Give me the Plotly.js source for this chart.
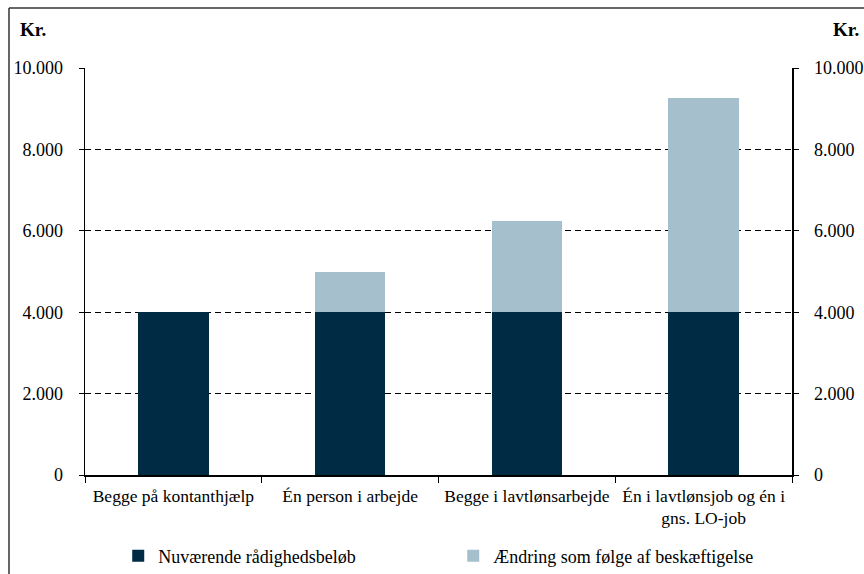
<!DOCTYPE html>
<html>
<head>
<meta charset="utf-8">
<script src="https://cdn.plot.ly/plotly-3.0.1.min.js"></script>
<style>html,body{margin:0;padding:0;background:#fff;}#chart{width:864px;height:574px;}</style>
</head>
<body>
<div id="chart"></div>
<script>
const categories = ["Begge på kontanthjælp", "Én person i arbejde", "Begge i lavtlønsarbejde", "Én i lavtlønsjob og én i<br>gns. LO-job"];
const currentAmount = [4000, 4000, 4000, 4000];
const changeFromEmployment = [0, 980, 2240, 5260];
const seriesNames = ["Nuværende rådighedsbeløb", "Ændring som følge af beskæftigelse"];
const yTickVals = [0, 2000, 4000, 6000, 8000, 10000];
const yTickText = ["0", "2.000", "4.000", "6.000", "8.000", "10.000"];

const font = "'Liberation Serif', 'Times New Roman', Times, serif";

const traces = [
  {type: "bar", x: categories, y: currentAmount, name: seriesNames[0],
   marker: {color: "#002B45", line: {width: 0}}},
  {type: "bar", x: categories, y: changeFromEmployment, name: seriesNames[1],
   marker: {color: "#A5BFCD", line: {width: 0}}},
  {type: "scatter", x: categories, y: currentAmount, yaxis: "y2", mode: "none",
   showlegend: false, hoverinfo: "skip"}
];

const axisY = {
  range: [0, 10000], tickvals: yTickVals, ticktext: yTickText,
  ticks: "outside", ticklen: 5, tickcolor: "#000", tickwidth: 1,
  showline: true, linecolor: "#000", linewidth: 1.5,
  tickfont: {family: font, size: 18, color: "#000"},
  ticklabelstandoff: 12,
  fixedrange: true, zeroline: false
};

const layout = {
  width: 864, height: 574,
  paper_bgcolor: "#fff", plot_bgcolor: "#fff",
  margin: {l: 85, r: 72, t: 68, b: 99, autoexpand: false},
  barmode: "stack", bargap: 0.6,
  font: {family: font, size: 18, color: "#000"},
  xaxis: {
    type: "category", tickson: "boundaries", ticks: "outside", ticklen: 6,
    tickcolor: "#000", tickwidth: 1, showline: true, linecolor: "#000", linewidth: 1.5,
    tickfont: {family: font, size: 17.5, color: "#000"}, showgrid: false,
    tickangle: 0, ticklabelstandoff: 4
  },
  yaxis: Object.assign({}, axisY, {
    side: "left", showgrid: true, gridcolor: "#000", gridwidth: 1.2, griddash: "6px,4px"
  }),
  yaxis2: Object.assign({}, axisY, {
    side: "right", overlaying: "y", showgrid: false
  }),
  legend: {
    orientation: "h", x: 0.047, y: -0.199, xanchor: "left", yanchor: "middle",
    font: {family: font, size: 18, color: "#000"},
    entrywidth: 290, entrywidthmode: "pixels", traceorder: "normal",
    bgcolor: "rgba(0,0,0,0)", itemwidth: 30
  },
  showlegend: true,
  annotations: [
    {xref: "paper", yref: "paper", x: -0.095, y: 1.0934, xanchor: "left", yanchor: "middle",
     text: "<b>Kr.</b>", showarrow: false, font: {family: font, size: 19, color: "#000"}},
    {xref: "paper", yref: "paper", x: 1.0975, y: 1.0934, xanchor: "right", yanchor: "middle",
     text: "<b>Kr.</b>", showarrow: false, font: {family: font, size: 19, color: "#000"}}
  ],
  shapes: [
    {type: "line", xref: "paper", yref: "paper", x0: -0.1075, x1: -0.1075, y0: 1.1474, y1: -0.3, line: {color: "#333", width: 1.5}},
    {type: "line", xref: "paper", yref: "paper", x0: -0.1075, x1: 1.11, y0: 1.1474, y1: 1.1474, line: {color: "#333", width: 1.5}}
  ]
};

Plotly.newPlot("chart", traces, layout, {displayModeBar: false, staticPlot: true});
</script>
</body>
</html>
